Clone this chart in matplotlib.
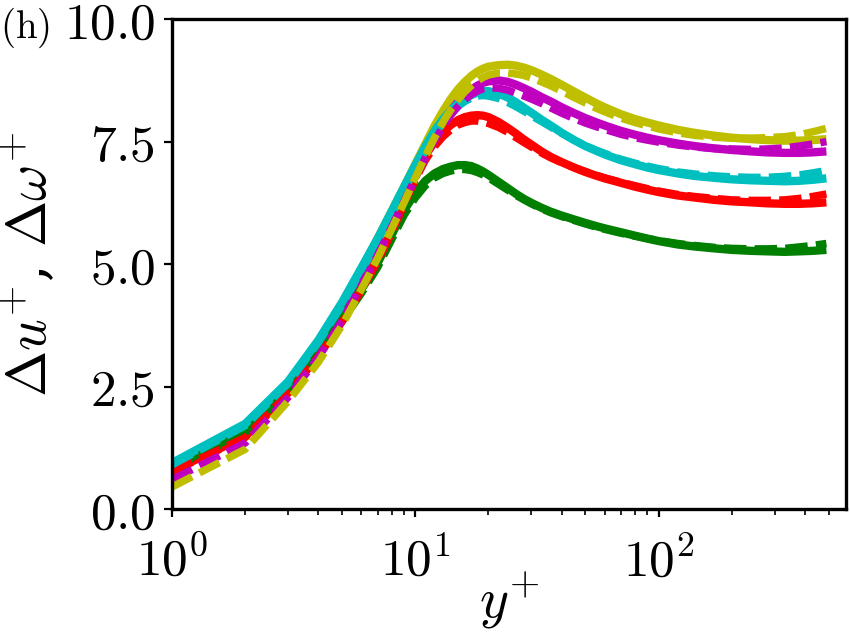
import matplotlib
matplotlib.use("Agg")
import matplotlib.pyplot as plt
from matplotlib.ticker import FixedLocator, FixedFormatter, LogLocator, NullFormatter

plt.rcParams['mathtext.fontset'] = 'cm'
plt.rcParams['font.family'] = 'serif'
plt.rcParams['font.serif'] = ['DejaVu Serif']

yplus = [1, 2, 3, 4, 5, 6, 7, 8, 9, 10, 11, 12, 13, 14, 15, 16, 17, 18, 19, 20,
         22, 24, 26, 28, 30, 33, 36, 40, 45, 50, 55, 60, 70, 80, 90, 100, 120, 140,
         170, 200, 240, 280, 330, 380, 430, 490]

green_solid = [0.86, 1.60, 2.45, 3.20, 3.90, 4.48, 5.02, 5.60, 6.10, 6.45, 6.70, 6.85, 6.94, 6.99,
               7.02, 7.02, 7.00, 6.95, 6.89, 6.82, 6.68, 6.55, 6.43, 6.33, 6.25, 6.15, 6.07,
               5.99, 5.91, 5.84, 5.78, 5.73, 5.65, 5.58, 5.52, 5.47, 5.40, 5.36, 5.32, 5.29,
               5.27, 5.26, 5.25, 5.26, 5.27, 5.29]
green_dash = [0.82, 1.56, 2.40, 3.14, 3.83, 4.40, 4.93, 5.50, 6.00, 6.35, 6.60, 6.76, 6.85, 6.90,
              6.93, 6.93, 6.91, 6.87, 6.82, 6.76, 6.63, 6.51, 6.40, 6.31, 6.23, 6.13, 6.05,
              5.97, 5.89, 5.82, 5.76, 5.71, 5.63, 5.57, 5.52, 5.48, 5.42, 5.38, 5.34, 5.32,
              5.31, 5.31, 5.32, 5.35, 5.38, 5.42]

red_solid = [0.78, 1.48, 2.38, 3.15, 3.85, 4.50, 5.10, 5.70, 6.30, 6.82, 7.22, 7.50, 7.70, 7.84,
             7.94, 8.00, 8.03, 8.04, 8.03, 8.00, 7.90, 7.78, 7.66, 7.54, 7.44, 7.30, 7.19,
             7.08, 6.97, 6.88, 6.81, 6.75, 6.66, 6.58, 6.52, 6.47, 6.40, 6.36, 6.31, 6.28,
             6.26, 6.24, 6.23, 6.23, 6.24, 6.26]
red_dash = [0.76, 1.46, 2.36, 3.12, 3.82, 4.46, 5.05, 5.64, 6.22, 6.72, 7.12, 7.40, 7.60, 7.74,
            7.84, 7.89, 7.92, 7.92, 7.90, 7.87, 7.79, 7.69, 7.58, 7.48, 7.39, 7.27, 7.17,
            7.07, 6.97, 6.89, 6.82, 6.76, 6.67, 6.60, 6.54, 6.49, 6.42, 6.38, 6.34, 6.31,
            6.30, 6.30, 6.31, 6.34, 6.38, 6.43]

cyan_solid = [0.94, 1.74, 2.60, 3.45, 4.22, 4.92, 5.52, 6.08, 6.58, 7.02, 7.40, 7.72, 7.96, 8.14,
              8.28, 8.38, 8.45, 8.50, 8.53, 8.53, 8.48, 8.40, 8.30, 8.19, 8.09, 7.95, 7.83,
              7.68, 7.53, 7.41, 7.32, 7.24, 7.12, 7.04, 6.97, 6.92, 6.85, 6.80, 6.76, 6.73,
              6.71, 6.70, 6.69, 6.70, 6.72, 6.75]
cyan_dash = [0.90, 1.70, 2.56, 3.40, 4.16, 4.85, 5.45, 6.00, 6.50, 6.94, 7.32, 7.64, 7.89, 8.08,
             8.22, 8.32, 8.39, 8.43, 8.44, 8.43, 8.38, 8.30, 8.21, 8.12, 8.03, 7.91, 7.80,
             7.67, 7.53, 7.42, 7.33, 7.26, 7.14, 7.06, 7.00, 6.95, 6.88, 6.84, 6.80, 6.78,
             6.77, 6.77, 6.79, 6.82, 6.86, 6.91]

magenta_solid = [0.82, 1.55, 2.42, 3.25, 4.00, 4.70, 5.30, 5.86, 6.36, 6.82, 7.24, 7.60, 7.90,
                 8.13, 8.31, 8.45, 8.56, 8.64, 8.70, 8.73, 8.75, 8.72, 8.66, 8.59, 8.52, 8.41,
                 8.32, 8.20, 8.08, 7.98, 7.90, 7.83, 7.72, 7.64, 7.58, 7.53, 7.46, 7.41, 7.36,
                 7.33, 7.30, 7.28, 7.27, 7.27, 7.28, 7.30]
magenta_dash = [0.60, 1.35, 2.28, 3.10, 3.85, 4.56, 5.18, 5.76, 6.28, 6.75, 7.17, 7.52, 7.81,
                8.04, 8.22, 8.36, 8.46, 8.53, 8.58, 8.60, 8.59, 8.55, 8.49, 8.43, 8.37, 8.28,
                8.19, 8.08, 7.97, 7.88, 7.81, 7.75, 7.65, 7.58, 7.53, 7.49, 7.43, 7.39, 7.36,
                7.35, 7.34, 7.35, 7.37, 7.41, 7.45, 7.50]

olive_solid = [0.85, 1.65, 2.50, 3.35, 4.15, 4.88, 5.52, 6.08, 6.58, 7.04, 7.45, 7.82, 8.12,
               8.37, 8.57, 8.72, 8.84, 8.93, 8.99, 9.03, 9.06, 9.07, 9.05, 9.01, 8.96, 8.87,
               8.78, 8.66, 8.52, 8.40, 8.29, 8.20, 8.06, 7.96, 7.89, 7.83, 7.74, 7.68, 7.62,
               7.58, 7.55, 7.53, 7.52, 7.52, 7.53, 7.55]
olive_dash = [0.45, 1.22, 2.20, 3.00, 3.75, 4.48, 5.12, 5.72, 6.26, 6.76, 7.20, 7.58, 7.90,
              8.15, 8.36, 8.52, 8.64, 8.74, 8.81, 8.86, 8.90, 8.90, 8.88, 8.85, 8.80, 8.72,
              8.64, 8.53, 8.40, 8.29, 8.19, 8.11, 7.98, 7.89, 7.82, 7.76, 7.68, 7.63, 7.59,
              7.57, 7.57, 7.58, 7.60, 7.64, 7.70, 7.77]

colors = {'green': '#007f00', 'red': '#ff0000', 'cyan': '#00bfbf',
          'magenta': '#bf00bf', 'olive': '#bfbf00'}

yticks = [0.0, 2.5, 5.0, 7.5, 10.0]
ytick_labels = [r'$0.0$', r'$2.5$', r'$5.0$', r'$7.5$', r'$10.0$']
xticks = [1, 10, 100]
xtick_labels = [r'$10^0$', r'$10^1$', r'$10^2$']

fig = plt.figure(figsize=(8.5, 6.38), dpi=100)
ax = fig.add_axes([0.2024, 0.2022, 0.7929, 0.7678])

lw = 6.0
solid_order = [('olive', olive_solid), ('magenta', magenta_solid), ('red', red_solid),
               ('green', green_solid), ('cyan', cyan_solid)]
dash_order = [('green', green_dash), ('red', red_dash), ('cyan', cyan_dash),
              ('magenta', magenta_dash), ('olive', olive_dash)]
for name, vals in solid_order:
    ax.plot(yplus, vals, color=colors[name], lw=lw, solid_capstyle='butt',
            solid_joinstyle='round')
for name, vals in dash_order:
    ax.plot(yplus, vals, color=colors[name], lw=lw * 0.9, dashes=(3.0, 1.1),
            dash_capstyle='butt', dash_joinstyle='round')

ax.set_xscale('log')
ax.set_xlim(1, 590)
ax.set_ylim(0, 10)

ax.xaxis.set_major_locator(FixedLocator(xticks))
ax.xaxis.set_major_formatter(FixedFormatter(xtick_labels))
ax.xaxis.set_minor_locator(LogLocator(base=10, subs=range(2, 10), numticks=20))
ax.xaxis.set_minor_formatter(NullFormatter())
ax.yaxis.set_major_locator(FixedLocator(yticks))
ax.yaxis.set_major_formatter(FixedFormatter(ytick_labels))

for s in ax.spines.values():
    s.set_linewidth(2.4)
ax.tick_params(axis='both', which='major', direction='out', length=6, width=1.6,
               labelsize=37, top=False, right=False)
ax.tick_params(axis='x', which='minor', direction='out', length=4, width=1.2,
               top=False)
ax.tick_params(axis='y', which='major', pad=6)
ax.tick_params(axis='x', which='major', pad=14)

ax.set_xlabel(r'$y^{+}$', fontsize=40, labelpad=-12)
ax.set_ylabel(r'$\Delta u^{+}$, $\Delta \omega^{+}$', fontsize=40, labelpad=4)

fig.text(0.0, 1 - 38 / 638, r'$\mathrm{(h)}$', fontsize=28, va='baseline', ha='left')

fig.savefig('out.png', dpi=100)
